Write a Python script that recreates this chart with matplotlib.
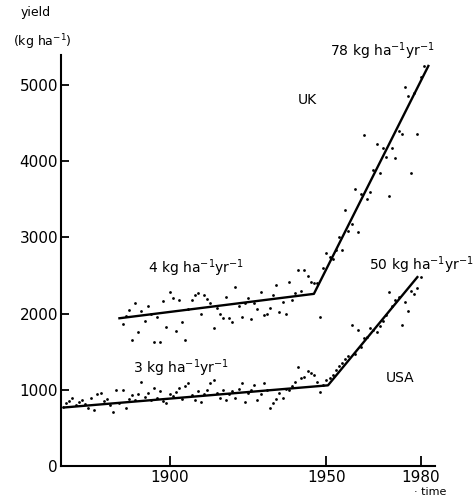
import matplotlib
matplotlib.use('Agg')
import matplotlib.pyplot as plt

# yearly yields (kg/ha)
uk_years = list(range(1885, 1982))
uk_yield = [1870, 1970, 2050, 1650, 2140, 1760, 2040, 1900, 2100, 2000,
            1630, 1950, 1630, 2160, 1820, 2280, 2210, 1770, 2180, 1890,
            1650, 2060, 2180, 2250, 2270, 2000, 2250, 2190, 2140, 1810,
            2080, 2000, 1940, 2220, 1940, 1890, 2350, 2100, 1950, 2140,
            2200, 1930, 2140, 2060, 2280, 1980, 2000, 2080, 2250, 2380,
            2020, 2150, 1990, 2420, 2180, 2270, 2570, 2300, 2570, 2490,
            2420, 2400, 2400, 1950, 2600, 2800, 2740, 2720, 2830, 3000,
            2840, 3360, 3090, 3180, 3630, 3070, 3570, 4340, 3500, 3600,
            3890, 4220, 3840, 4170, 4050, 3540, 4180, 4040, 4400, 4360,
            4970, 4860, 3840, 4900, 4360, 5110, 5255]

usa_years = list(range(1866, 1981))
usa_yield = [780, 830, 860, 900, 800, 840, 870, 820, 760, 890,
             730, 950, 960, 850, 880, 800, 710, 1000, 830, 1000,
             760, 880, 930, 870, 950, 1110, 910, 960, 870, 1020,
             900, 980, 860, 830, 950, 920, 970, 1020, 880, 1050,
             1090, 930, 870, 990, 840, 950, 1000, 1090, 1130, 960,
             900, 1000, 870, 940, 980, 900, 1010, 1090, 840, 960,
             1000, 1060, 870, 950, 1090, 1000, 760, 830, 880, 960,
             890, 1010, 1000, 1050, 1100, 1300, 1150, 1170, 1250, 1220,
             1200, 1100, 970, 1060, 1130, 1150, 1190, 1260, 1320, 1350,
             1400, 1450, 1850, 1470, 1780, 1560, 1680, 1690, 1810, 1780,
             1760, 1840, 1910, 1980, 2280, 2100, 2180, 2220, 1850, 2150,
             2040, 2300, 2260, 2340, 2480]

# fitted trend segments
uk_trend_x = [1884, 1946, 1982.5]
uk_trend_y = [1940, 2260, 5250]
usa_trend_x = [1866.5, 1950.5, 1979]
usa_trend_y = [770, 1060, 2480]

fig = plt.figure(figsize=(4.75, 4.98), dpi=100)
ax = fig.add_axes([0.128, 0.064, 0.787, 0.825])

ax.plot(uk_years, uk_yield, 'o', color='black', markersize=2.0, markeredgewidth=0)
ax.plot(usa_years, usa_yield, 'o', color='black', markersize=2.0, markeredgewidth=0)
ax.plot(uk_trend_x, uk_trend_y, color='black', linewidth=1.7)
ax.plot(usa_trend_x, usa_trend_y, color='black', linewidth=1.7)

ax.set_xlim(1865.3, 1984.5)
ax.set_ylim(0, 5390)
ax.set_xticks([1900, 1950, 1980])
ax.set_yticks([0, 1000, 2000, 3000, 4000, 5000])
ax.tick_params(direction='in', width=1.3, labelsize=11, pad=3)
ax.tick_params(axis='x', length=7, pad=3)
ax.tick_params(axis='y', length=6, pad=2)
for s in ['top', 'right']:
    ax.spines[s].set_visible(False)
for s in ['left', 'bottom']:
    ax.spines[s].set_linewidth(1.5)

ax.text(1968, 5450, '78 kg ha$^{-1}$yr$^{-1}$', ha='center', va='center', fontsize=10, clip_on=False)
ax.text(1944, 4800, 'UK', ha='center', va='center', fontsize=10)
ax.text(1908.5, 2600, '4 kg ha$^{-1}$yr$^{-1}$', ha='center', va='center', fontsize=10)
ax.text(1963.5, 2630, '50 kg ha$^{-1}$yr$^{-1}$', ha='left', va='center', fontsize=10, clip_on=False)
ax.text(1903.5, 1290, '3 kg ha$^{-1}$yr$^{-1}$', ha='center', va='center', fontsize=10)
ax.text(1973.5, 1150, 'USA', ha='center', va='center', fontsize=10)

fig.text(0.075, 0.975, 'yield', ha='center', va='center', fontsize=9)
fig.text(0.09, 0.915, '(kg ha$^{-1}$)', ha='center', va='center', fontsize=9)
fig.text(0.905, 0.003, '· time', ha='center', va='bottom', fontsize=8)

fig.savefig('out.png', dpi=100)
